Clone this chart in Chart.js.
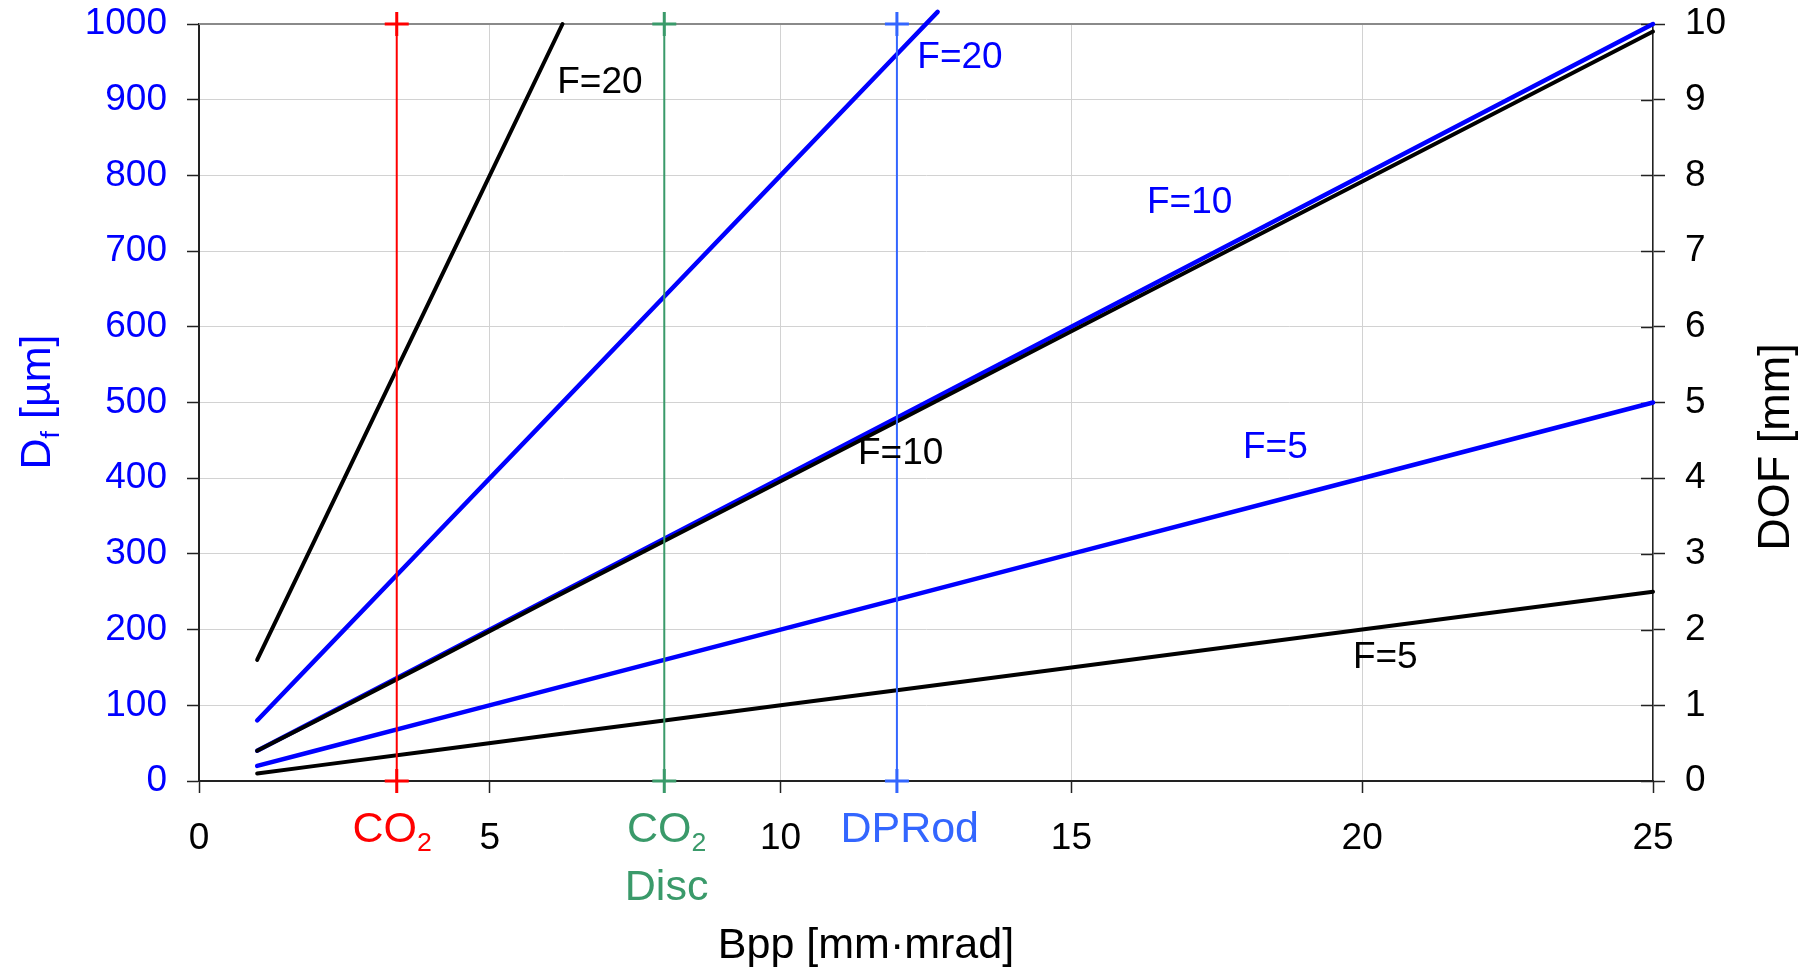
<!DOCTYPE html>
<html>
<head>
<meta charset="utf-8">
<title>Focus diameter and depth of focus vs. beam parameter product</title>
<script src="https://cdn.jsdelivr.net/npm/chart.js@4.4.0/dist/chart.umd.min.js"></script>
<style>
  html, body { margin: 0; padding: 0; background: #ffffff; }
  #wrap { width: 1808px; height: 970px; position: relative; }
  canvas { display: block; }
</style>
</head>
<body>
<div id="wrap"><canvas id="chart" width="1808" height="970"></canvas></div>
<script>
// ---- data ----------------------------------------------------------
// Beam parameter product Bpp [mm·mrad] sample points
const bpp = [1, 2, 4, 6, 8, 10, 12, 15, 20, 25];
// Focus diameter Df [µm] (left axis)
const dfF5  = [20, 40, 80, 120, 160, 200, 240, 300, 400, 500];
const dfF10 = [40, 80, 160, 240, 320, 400, 480, 600, 800, 1000];
const bppDfF20 = [1, 2, 4, 6, 8, 10, 12, 12.7];
const dfF20 = [80, 160, 320, 480, 640, 800, 960, 1016];
// Depth of focus DOF [mm] (right axis)
const dofF5  = [0.1, 0.2, 0.4, 0.6, 0.8, 1.0, 1.2, 1.5, 2.0, 2.5];
const dofF10 = [0.4, 0.79, 1.58, 2.38, 3.17, 3.96, 4.75, 5.94, 7.92, 9.9];
const bppDofF20 = [1, 2, 3, 4, 5, 6.25];
const dofF20 = [1.6, 3.2, 4.8, 6.4, 8.0, 10.0];
// Laser sources and their beam parameter product
const sourceNames = ['CO2', 'CO2 Disc', 'DPRod'];
const sourceBpp = [3.4, 8.0, 12.0];
// Axis ranges / ticks
const xRange = [0, 25], xStep = 5;
const dfRange = [0, 1000], dfStep = 100;
const dofRange = [0, 10], dofStep = 1;

// ---- styling -------------------------------------------------------
const FONT = '"Liberation Sans", Arial, Helvetica, sans-serif';
const f = px => px + 'px ' + FONT;
const BLUE = '#0000ff';
const BLACK = '#000000';
const sourceColors = ['#ff0000', '#3a9a6a', '#3366ff'];
const GRID = '#d2d2d2';
const AXIS = '#222222';

const pts = (xs, ys) => xs.map((x, i) => ({ x: x, y: ys[i] }));

function curve(xs, ys, color, axis, width) {
  return {
    data: pts(xs, ys), yAxisID: axis, borderColor: color, backgroundColor: color,
    borderWidth: width, pointRadius: 0, tension: 0, fill: false,
    borderCapStyle: 'round', borderJoinStyle: 'round', clip: false
  };
}

const datasets = [];
// vertical source markers, drawn on top
sourceBpp.forEach((b, i) => {
  datasets.push({
    data: pts([b, b], [dfRange[0], dfRange[1]]), yAxisID: 'y',
    borderColor: sourceColors[i], backgroundColor: sourceColors[i],
    borderWidth: 2, pointStyle: 'cross', pointRadius: 12,
    pointBorderWidth: 3, pointBorderColor: sourceColors[i],
    tension: 0, fill: false, clip: false
  });
});
// depth of focus (black, right axis)
datasets.push(curve(bpp, dofF10, BLACK, 'y2', 4));
datasets.push(curve(bpp, dofF5, BLACK, 'y2', 4));
datasets.push(curve(bppDofF20, dofF20, BLACK, 'y2', 4));
// focus diameter (blue, left axis)
datasets.push(curve(bpp, dfF10, BLUE, 'y', 4.5));
datasets.push(curve(bpp, dfF5, BLUE, 'y', 4.5));
datasets.push(curve(bppDfF20, dfF20, BLUE, 'y', 4.5));

// ---- annotations ---------------------------------------------------
// curve labels, anchored in (Bpp, Df) units, left/baseline
const curveLabels = [
  { text: 'F=20', x: 6.16,  y: 909, color: BLACK },
  { text: 'F=20', x: 12.35, y: 942, color: BLUE },
  { text: 'F=10', x: 16.3,  y: 750, color: BLUE },
  { text: 'F=10', x: 11.33, y: 419, color: BLACK },
  { text: 'F=5',  x: 17.95, y: 427, color: BLUE },
  { text: 'F=5',  x: 19.84, y: 149, color: BLACK }
];
// source names under the x axis: rich text runs [text, subscript]
const sourceLabelRuns = [
  [[['CO', false], ['2', true]]],
  [[['CO', false], ['2', true]], [['Disc', false]]],
  [[['DPRod', false]]]
];
const sourceLabelShift = [-0.08, 0.04, 0.22];

function drawRich(ctx, runs, x, y, size, align) {
  const subSize = size * 0.62;
  const widths = runs.map(r => { ctx.font = f(r[1] ? subSize : size); return ctx.measureText(r[0]).width; });
  const total = widths.reduce((a, b) => a + b, 0);
  let cx = align === 'center' ? x - total / 2 : (align === 'right' ? x - total : x);
  ctx.textAlign = 'left';
  ctx.textBaseline = 'alphabetic';
  runs.forEach((r, i) => {
    ctx.font = f(r[1] ? subSize : size);
    ctx.fillText(r[0], cx, y + (r[1] ? size * 0.21 : 0));
    cx += widths[i];
  });
}

const decor = {
  id: 'decor',
  beforeDatasetsDraw(chart) {
    const { ctx, chartArea: a } = chart;
    ctx.save();
    // top frame line
    ctx.strokeStyle = '#8a8a8a';
    ctx.lineWidth = 2;
    ctx.beginPath();
    ctx.moveTo(a.left, a.top);
    ctx.lineTo(a.right, a.top);
    ctx.stroke();
    // inner half of the right axis ticks
    const y2 = chart.scales.y2;
    ctx.strokeStyle = AXIS;
    ctx.lineWidth = 1.5;
    y2.ticks.forEach(t => {
      const py = Math.round(y2.getPixelForValue(t.value)) + 0.5;
      ctx.beginPath();
      ctx.moveTo(a.right - 12, py);
      ctx.lineTo(a.right, py);
      ctx.stroke();
    });
    ctx.restore();
  },
  afterDatasetsDraw(chart) {
    const { ctx, chartArea: a, scales } = chart;
    const xs = scales.x, ys = scales.y;
    ctx.save();
    // curve labels
    ctx.font = f(37);
    ctx.textAlign = 'left';
    ctx.textBaseline = 'alphabetic';
    curveLabels.forEach(l => {
      ctx.fillStyle = l.color;
      ctx.fillText(l.text, xs.getPixelForValue(l.x), ys.getPixelForValue(l.y));
    });
    // source labels
    sourceBpp.forEach((b, i) => {
      ctx.fillStyle = sourceColors[i];
      const cx = xs.getPixelForValue(b + sourceLabelShift[i]);
      sourceLabelRuns[i].forEach((line, j) => {
        drawRich(ctx, line, cx, a.bottom + 61 + j * 58, 43, 'center');
      });
    });
    // x axis title
    ctx.fillStyle = BLACK;
    ctx.font = f(43);
    ctx.textAlign = 'center';
    ctx.fillText('Bpp [mm\u00b7mrad]', 866, 958);
    // left axis title (rotated)
    ctx.save();
    ctx.translate(50, 402);
    ctx.rotate(-Math.PI / 2);
    ctx.fillStyle = BLUE;
    drawRich(ctx, [['D', false], ['f', true], [' [\u00b5m]', false]], 0, 0, 43, 'center');
    ctx.restore();
    // right axis title (rotated)
    ctx.save();
    ctx.translate(1789, 447);
    ctx.rotate(-Math.PI / 2);
    ctx.fillStyle = BLACK;
    ctx.font = f(45);
    ctx.textAlign = 'center';
    ctx.textBaseline = 'alphabetic';
    ctx.fillText('DOF [mm]', 0, 0);
    ctx.restore();
    ctx.restore();
  }
};

const plain = v => String(v);
const noPad = s => { s.paddingTop = 0; s.paddingBottom = 0; s.paddingLeft = 0; s.paddingRight = 0; };

new Chart(document.getElementById('chart'), {
  type: 'line',
  data: { datasets: datasets },
  plugins: [decor],
  options: {
    responsive: false,
    animation: false,
    events: [],
    layout: { padding: { top: 24, left: 0, right: 0, bottom: 0 } },
    plugins: { legend: { display: false }, tooltip: { enabled: false } },
    scales: {
      x: {
        type: 'linear', position: 'bottom', min: xRange[0], max: xRange[1],
        ticks: { stepSize: xStep, color: BLACK, font: { family: FONT, size: 37 }, padding: 24, maxRotation: 0, callback: plain },
        grid: { color: GRID, lineWidth: 1, tickColor: AXIS, tickLength: 12, tickWidth: 1.5 },
        border: { color: AXIS, width: 2 },
        afterFit: s => { s.height = 189; noPad(s); }
      },
      y: {
        type: 'linear', position: 'left', min: dfRange[0], max: dfRange[1],
        ticks: { stepSize: dfStep, color: BLUE, font: { family: FONT, size: 37 }, padding: 20, callback: plain },
        grid: { color: GRID, lineWidth: 1, tickColor: AXIS, tickLength: 12, tickWidth: 1.5 },
        border: { color: AXIS, width: 2 },
        afterFit: s => { s.width = 199; noPad(s); }
      },
      y2: {
        type: 'linear', position: 'right', min: dofRange[0], max: dofRange[1],
        ticks: { stepSize: dofStep, color: BLACK, font: { family: FONT, size: 37 }, padding: 20, callback: plain },
        grid: { drawOnChartArea: false, tickColor: AXIS, tickLength: 12, tickWidth: 1.5 },
        border: { color: AXIS, width: 1.5 },
        afterFit: s => { s.width = 155; noPad(s); }
      }
    }
  }
});
</script>
</body>
</html>
